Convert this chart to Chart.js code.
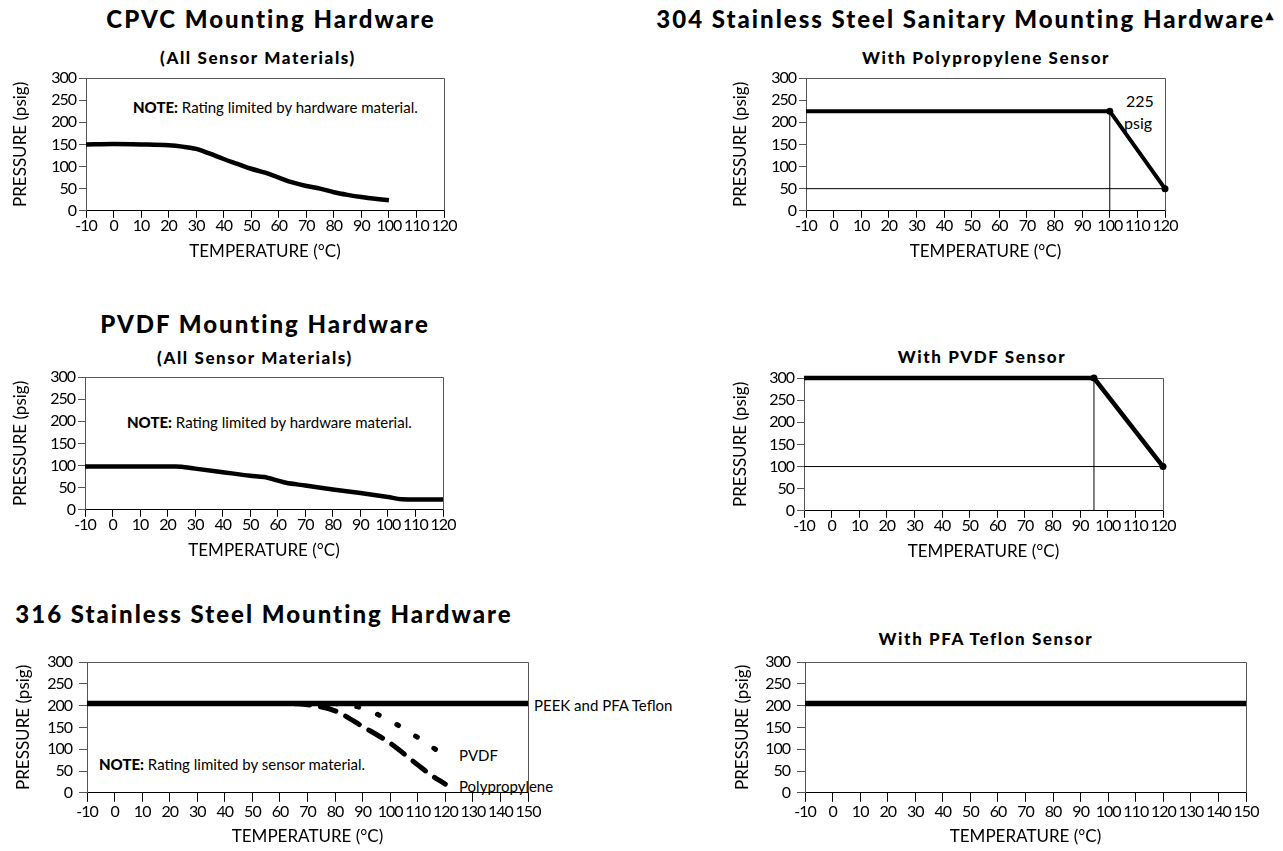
<!DOCTYPE html>
<html>
<head>
<meta charset="utf-8">
<script src="https://cdn.jsdelivr.net/npm/chart.js@4.4.1/dist/chart.umd.min.js"></script>
<style>
  body { margin: 0; width: 1283px; height: 851px; background: #fff; position: relative; overflow: hidden;
         font-family: Lato, "DejaVu Sans", sans-serif; color: #000; }
  canvas { position: absolute; }
  .title { position: absolute; white-space: nowrap; transform: translate(-50%, -50%); font-weight: 900; }
  .big { font-size: 24px; letter-spacing: 2px; }
  .sub { font-size: 17px; letter-spacing: 1.6px; }
  .note { position: absolute; white-space: nowrap; transform: translateY(-50%); font-size: 15px; }
  .note b { font-weight: 900; }
  sup { font-size: 11px; }
</style>
</head>
<body>
<div class="title big" style="left:271px; top:18px">CPVC Mounting Hardware</div>
<div class="title sub" style="left:258px; top:57px">(All Sensor Materials)</div>
<div class="title big" style="left:966px; top:18px">304 Stainless Steel Sanitary Mounting Hardware<sup>▲</sup></div>
<div class="title sub" style="left:986px; top:57px">With Polypropylene Sensor</div>
<div class="title big" style="left:265px; top:323px">PVDF Mounting Hardware</div>
<div class="title sub" style="left:255px; top:357px">(All Sensor Materials)</div>
<div class="title sub" style="left:982px; top:356px">With PVDF Sensor</div>
<div class="title big" style="left:264px; top:613px">316 Stainless Steel Mounting Hardware</div>
<div class="title sub" style="left:986px; top:638px">With PFA Teflon Sensor</div>

<div class="note" style="left:133px; top:107px"><b>NOTE:</b> Rating limited by hardware material.</div>
<div class="note" style="left:127px; top:422px"><b>NOTE:</b> Rating limited by hardware material.</div>
<div class="note" style="left:99px; top:764px"><b>NOTE:</b> Rating limited by sensor material.</div>
<div class="note" style="left:1126px; top:100px; font-size:16px">225</div>
<div class="note" style="left:1124px; top:122px; font-size:16px">psig</div>
<div class="note" style="left:534px; top:705px">PEEK and PFA Teflon</div>
<div class="note" style="left:459px; top:755px">PVDF</div>
<div class="note" style="left:459px; top:786px">Polypropylene</div>

<script>
// CPVC mounting hardware (all sensor materials)
const cpvcTemp = [-10, 0, 10, 20, 25, 30, 35, 40, 45, 50, 55, 60, 65, 70, 75, 80, 85, 90, 95, 100];
const cpvcPsi  = [150, 151, 150, 148, 145, 140, 129, 117, 106, 95, 86, 75, 64, 56, 50, 42, 36, 31, 27, 24];

// PVDF mounting hardware (all sensor materials)
const pvdfHwTemp = [-10, 0, 10, 23, 30, 40, 50, 55, 60, 63, 70, 80, 90, 100, 105, 120];
const pvdfHwPsi  = [98, 98, 98, 98, 93, 85, 77, 74, 66, 61, 55, 46, 38, 29, 24, 23];

// 316 stainless steel mounting hardware
const peekTemp = [-10, 150];
const peekPsi  = [205, 205];
const pvdfTemp = [80, 90, 100, 110, 120];
const pvdfPsi  = [205, 194, 165, 127, 84];
const ppTemp   = [65, 70, 80, 90, 100, 110, 115, 120];
const ppPsi    = [205, 202, 188, 152, 114, 64, 40, 20];

// 304 stainless steel sanitary mounting hardware
const ppSensorTemp   = [-10, 100, 120];
const ppSensorPsi    = [225, 225, 50];
const ppRefTemp      = 100;
const ppRefPsi       = 50;
const pvdfSensorTemp = [-10, 95, 120];
const pvdfSensorPsi  = [300, 300, 100];
const pvdfRefTemp    = 95;
const pvdfRefPsi     = 100;
const pfaSensorTemp  = [-10, 150];
const pfaSensorPsi   = [205, 205];

// axes
const psiMin = 0, psiMax = 300, psiStep = 50;
const tempMin = -10, tempStep = 10;

const pts = (xs, ys) => xs.map((x, i) => ({ x: x, y: ys[i] }));

// grey box on top and right of the plot; tick digits drawn a bit tighter
const frame = {
  id: 'frame',
  beforeUpdate(chart) { chart.ctx.letterSpacing = '-1px'; },
  beforeDraw(chart) { chart.ctx.letterSpacing = '0px'; },
  beforeDatasetsDraw(chart) {
    const { ctx, chartArea: a } = chart;
    ctx.save();
    ctx.strokeStyle = '#555';
    ctx.lineWidth = 1;
    ctx.beginPath();
    ctx.moveTo(a.left, a.top + 0.5);
    ctx.lineTo(a.right + 0.5, a.top + 0.5);
    ctx.lineTo(a.right + 0.5, a.bottom);
    ctx.stroke();
    ctx.restore();
  },
  afterDatasetsDraw(chart) { chart.ctx.letterSpacing = '-1px'; }
};

function line(data, width, extra) {
  return Object.assign({
    data: data, borderColor: '#000', backgroundColor: '#000', borderWidth: width,
    pointRadius: 0, fill: false, clip: false
  }, extra || {});
}

function panel(p, tempMax, datasets) {
  const padTop = 14, padRight = 26;
  const left = Math.round(p.yTitleX - 10);
  const yW = p.L - left;
  const xH = p.xTitleDy + 10.2;
  const c = document.createElement('canvas');
  c.width = Math.round(yW + (p.R - p.L) + padRight);
  c.height = Math.round(padTop + (p.B - p.T) + xH);
  c.style.left = left + 'px';
  c.style.top = (p.T - padTop) + 'px';
  document.body.appendChild(c);

  new Chart(c, {
    type: 'line',
    data: { datasets: datasets },
    options: {
      responsive: false,
      animation: false,
      layout: { padding: { top: padTop, right: padRight, left: 0, bottom: 0 } },
      plugins: { legend: { display: false }, tooltip: { enabled: false } },
      scales: {
        x: {
          type: 'linear', min: tempMin, max: tempMax,
          afterFit: s => { s.height = xH; },
          border: { display: true, color: '#000', width: 1 },
          grid: { drawOnChartArea: false, drawTicks: true, tickLength: p.xTick, color: '#000' },
          ticks: { z: 1, stepSize: tempStep, color: '#000', padding: p.xPad, maxRotation: 0, autoSkip: false,
                   font: { family: 'Lato', size: 16, lineHeight: 1 } },
          title: { display: true, text: 'TEMPERATURE (°C)', color: '#000', padding: { top: 0, bottom: 0 },
                   font: { family: 'Lato', size: 17 } }
        },
        y: {
          min: psiMin, max: psiMax,
          afterFit: s => { s.width = yW; },
          border: { display: true, color: '#555', width: 1 },
          grid: { drawOnChartArea: false, drawTicks: true, tickLength: p.yTick, color: '#555' },
          ticks: { z: 1, stepSize: psiStep, color: '#000', padding: p.yPad,
                   font: { family: 'Lato', size: 16, lineHeight: 1 } },
          title: { display: true, text: 'PRESSURE (psig)', color: '#000', padding: { top: 0, bottom: 0 },
                   font: { family: 'Lato', size: 17 } }
        }
      }
    },
    plugins: [frame]
  });
}

const top4 = { xTick: 7, xPad: 0, yTick: 7, yPad: 3, xTitleDy: 41 };
const bot2 = { xTick: 9, xPad: 2, yTick: 8, yPad: 7, xTitleDy: 44 };

panel(Object.assign({ L: 86, R: 444, T: 78, B: 211, yTitleX: 20 }, top4), 120, [
  line(pts(cpvcTemp, cpvcPsi), 4.5, { cubicInterpolationMode: 'monotone' })
]);

panel(Object.assign({ L: 806, R: 1165, T: 78, B: 211, yTitleX: 740 }, top4), 120, [
  line(pts([ppRefTemp, ppRefTemp], [psiMin, ppSensorPsi[1]]), 1),
  line(pts([tempMin, 120], [ppRefPsi, ppRefPsi]), 1),
  line(pts(ppSensorTemp, ppSensorPsi), 4, { pointRadius: [0, 3.5, 3.5], pointBorderWidth: 0 })
]);

panel(Object.assign({ L: 85, R: 443, T: 377, B: 510, yTitleX: 20 }, top4), 120, [
  line(pts(pvdfHwTemp, pvdfHwPsi), 4.5, { cubicInterpolationMode: 'monotone' })
]);

panel(Object.assign({ L: 804, R: 1163, T: 378, B: 511, yTitleX: 740 }, top4), 120, [
  line(pts([pvdfRefTemp, pvdfRefTemp], [psiMin, psiMax]), 1),
  line(pts([tempMin, 120], [pvdfRefPsi, pvdfRefPsi]), 1),
  line(pts(pvdfSensorTemp, pvdfSensorPsi), 4.5, { pointRadius: [0, 3.5, 3.5], pointBorderWidth: 0 })
]);

panel(Object.assign({ L: 87, R: 528, T: 661, B: 793, yTitleX: 23 }, bot2), 150, [
  line(pts(ppTemp, ppPsi), 5, { cubicInterpolationMode: 'monotone', borderDash: [16, 11], borderCapStyle: 'round' }),
  line(pts(pvdfTemp, pvdfPsi), 5, { cubicInterpolationMode: 'monotone', borderDash: [2, 20], borderCapStyle: 'round' }),
  line(pts(peekTemp, peekPsi), 5.5)
]);

panel(Object.assign({ L: 805, R: 1246, T: 661, B: 793, yTitleX: 742 }, bot2), 150, [
  line(pts(pfaSensorTemp, pfaSensorPsi), 5.5)
]);
</script>
</body>
</html>
